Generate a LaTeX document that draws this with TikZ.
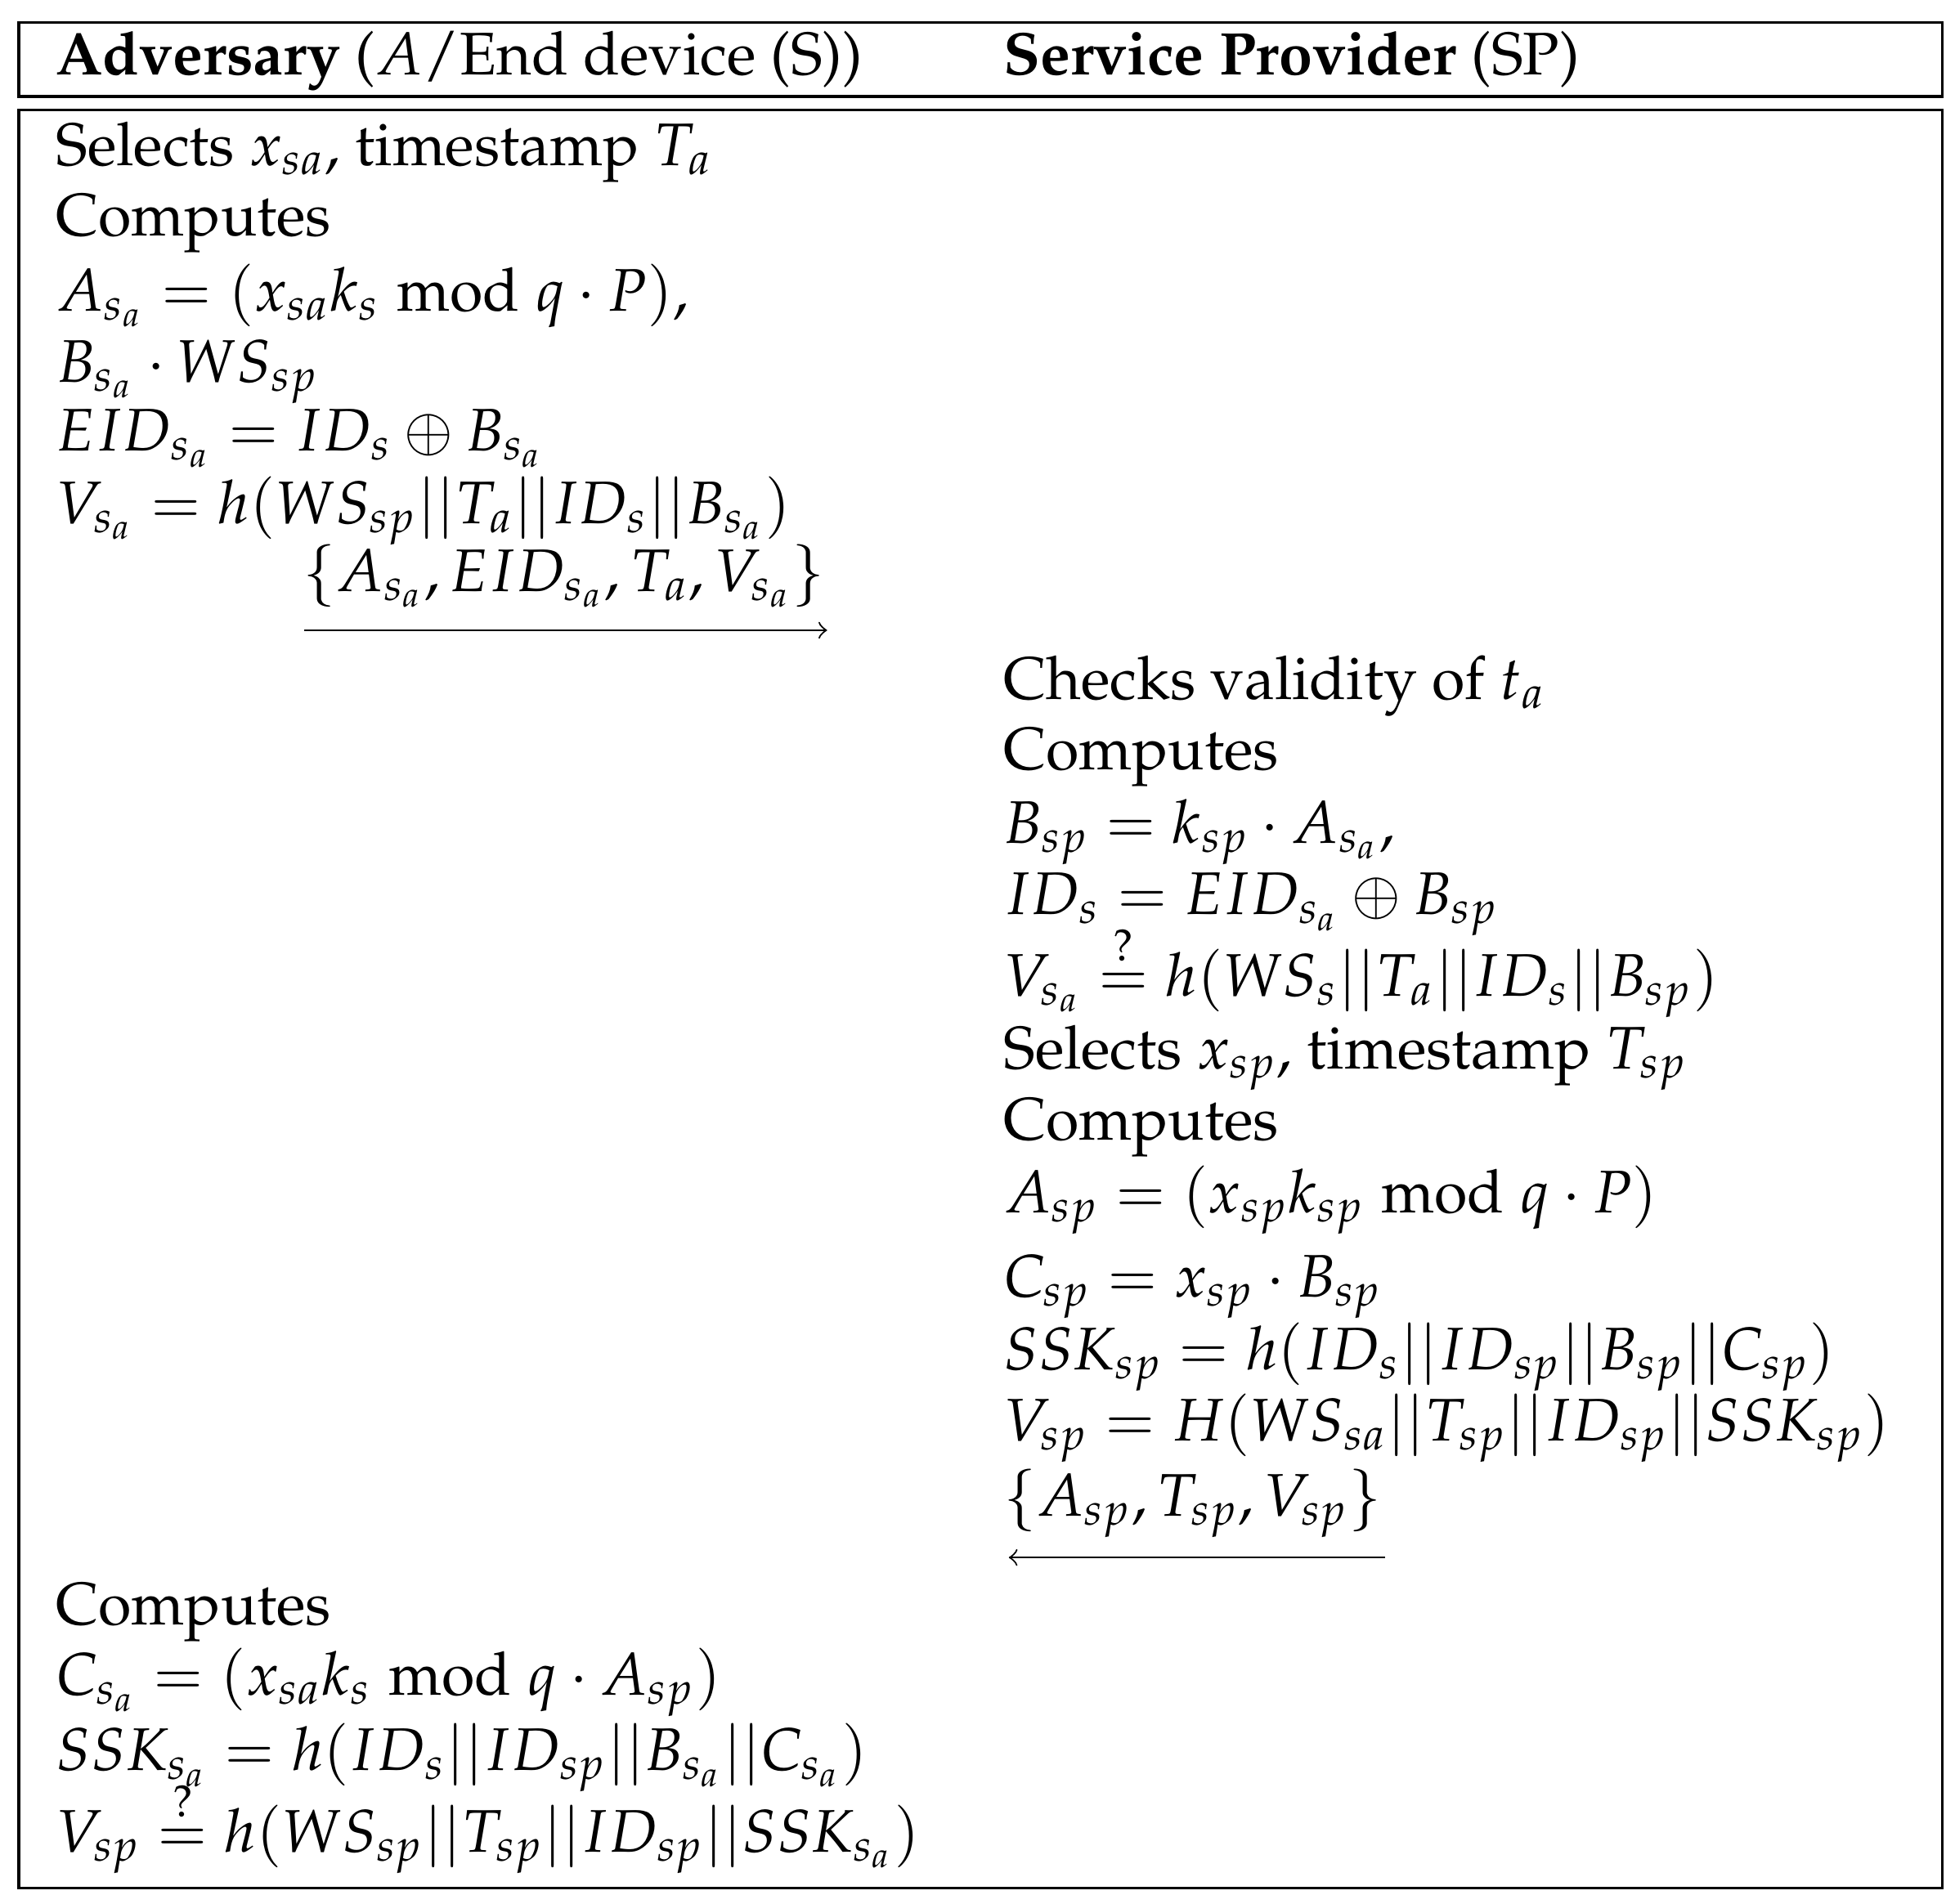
\documentclass[tikz,border=0pt]{standalone}
\usepackage[T1]{fontenc}
\usepackage{mathpazo}
\begin{document}
\begin{tikzpicture}[x=0.25pt,y=-0.25pt,
  txt/.style={anchor=base west,inner sep=0pt,font=\fontsize{12.0}{15}\selectfont},
  msg/.style={->,>=to,line width=0.35pt}]
\useasboundingbox (0,0) rectangle (1560,1519);
\draw[line width=0.5pt] (15,18) rectangle (1550,77);
\draw[line width=0.5pt] (15,88) rectangle (1550,1507);
\node[txt] (h1) at (44,60) {\textbf{Adversary} ($A$/End device (S))};
\node[txt] (h2) at (800,60) {\textbf{Service Provider} (SP)};
% left
\node[txt] (l1) at (44,132) {Selects $x_{sa}$, timestamp $T_a$};
\node[txt] (l2) at (44,188) {Computes};
\node[txt] (l3) at (44,248) {$A_{s_a}=(x_{sa}k_s \bmod q\cdot P)$,};
\node[txt] (l4) at (44,305) {$B_{s_a}\cdot WS_{sp}$};
\node[txt] (l5) at (44,360) {$EID_{s_a}=ID_s\oplus B_{s_a}$};
\node[txt] (l6) at (44,418) {$V_{s_a}=h(WS_{sp}||T_a||ID_s||B_{s_a})$};
\node[txt] (m1) at (241,472) {$\{A_{s_a},EID_{s_a},T_a,V_{s_a}\}$};
\coordinate (m1s) at (243,503); \coordinate (m1e) at (660,503);
\draw[msg] (m1s) -- (m1e);
% right
\node[txt] (r1) at (800,558) {Checks validity of $t_a$};
\node[txt] (r2) at (800,614) {Computes};
\node[txt] (r3) at (800,673) {$B_{sp}=k_{sp}\cdot A_{s_a}$,};
\node[txt] (r4) at (800,730) {$ID_s=EID_{s_a}\oplus B_{sp}$};
\node[txt] (r5) at (800,795) {$V_{s_a}\stackrel{?}{=}h(WS_s||T_a||ID_s||B_{sp})$};
\node[txt] (r6) at (800,853) {Selects $x_{sp}$, timestamp $T_{sp}$};
\node[txt] (r7) at (800,910) {Computes};
\node[txt] (r8) at (800,968) {$A_{sp}=(x_{sp}k_{sp} \bmod q\cdot P)$};
\node[txt] (r9) at (800,1035) {$C_{sp}=x_{sp}\cdot B_{sp}$};
\node[txt] (r10) at (800,1093) {$SSK_{sp}=h(ID_s||ID_{sp}||B_{sp}||C_{sp})$};
\node[txt] (r11) at (800,1150) {$V_{sp}=H(WS_{sa}||T_{sp}||ID_{sp}||SSK_{sp})$};
\node[txt] (m2) at (800,1210) {$\{A_{sp},T_{sp},V_{sp}\}$};
\coordinate (m2s) at (1105,1243); \coordinate (m2e) at (805,1243);
\draw[msg] (m2s) -- (m2e);
% left bottom
\node[txt] (b1) at (44,1297) {Computes};
\node[txt] (b2) at (44,1353) {$C_{s_a}=(x_{sa}k_s \bmod q\cdot A_{sp})$};
\node[txt] (b3) at (44,1413) {$SSK_{s_a}=h(ID_s||ID_{sp}||B_{s_a}||C_{s_a})$};
\node[txt] (b4) at (44,1478) {$V_{sp}\stackrel{?}{=}h(WS_{sp}||T_{sp}||ID_{sp}||SSK_{s_a})$};
\end{tikzpicture}
\end{document}
